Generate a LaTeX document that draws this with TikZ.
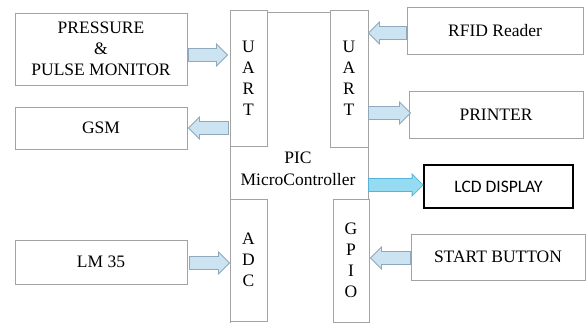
\documentclass[tikz,border=0pt]{standalone}
\usepackage{fontspec}
\setmainfont{Liberation Serif}
\newfontfamily\calibfont{Carlito}
\usetikzlibrary{calc}
\definecolor{boxgray}{HTML}{A3A3A3}
\definecolor{arrfill}{HTML}{CCE4F2}
\definecolor{arrdraw}{HTML}{8FA8BC}
\definecolor{lcdfill}{HTML}{95DCF3}
\definecolor{lcddraw}{HTML}{55B4D8}
\tikzset{
  blk/.style={draw=boxgray, line width=0.9pt, fill=white, inner sep=0pt,
    align=center, font=\fontsize{17.5}{21}\selectfont},
  barrowst/.style={draw=arrdraw, fill=arrfill, line width=0.8pt, line join=miter},
  lcdarrow/.style={draw=lcddraw, fill=lcdfill}
}
\newcommand\barrow[3][]{%
  \draw[barrowst,#1] let \p1=(#2), \p2=(#3), \n2={\x2-sign(\x2-\x1)*11} in
  (\x1,{\y1+6.5pt}) -- ({\n2*1pt},{\y1+6.5pt}) -- ({\n2*1pt},{\y1+11pt})
  -- (\x2,\y1) -- ({\n2*1pt},{\y1-11pt}) -- ({\n2*1pt},{\y1-6.5pt})
  -- (\x1,{\y1-6.5pt}) -- cycle;}
\begin{document}
\begin{tikzpicture}[x=1pt,y=-1pt]
\useasboundingbox (0,0) rectangle (587,323);
% PIC outer box
\node[blk, minimum width=138pt, minimum height=312pt] (pic) at (299,168) {};
\node[font=\fontsize{17.5}{22}\selectfont, align=center] (pictext) at (298,169) {PIC\\MicroController};
% interface blocks
\node[blk, minimum width=37pt, minimum height=136pt] (uart1) at (248.5,78) {U\\A\\R\\T};
\node[blk, minimum width=38pt, minimum height=137pt] (uart2) at (349,78.5) {U\\A\\R\\T};
\node[blk, minimum width=37pt, minimum height=122pt] (adc) at (248.5,260) {A\\D\\C};
\node[blk, minimum width=36pt, minimum height=123pt] (gpio) at (351,260.5) {G\\P\\I\\O};
% peripherals
\node[blk, minimum width=172pt, minimum height=72pt] (pm) at (101,49) {PRESSURE\\\&\\PULSE MONITOR};
\node[blk, minimum width=172pt, minimum height=42pt] (gsm) at (101,128) {GSM};
\node[blk, minimum width=172pt, minimum height=44pt] (lm) at (101,262) {LM 35};
\node[blk, minimum width=176pt, minimum height=47pt] (rfid) at (495,30.5) {RFID Reader};
\node[blk, minimum width=174pt, minimum height=47pt] (printer) at (496,114.5) {PRINTER};
\node[blk, draw=black, line width=1.8pt, minimum width=149pt, minimum height=43pt,
  font=\calibfont\fontsize{17.5}{20}\selectfont] (lcd) at (498.5,186.5) {LCD DISPLAY};
\node[blk, minimum width=174pt, minimum height=46pt] (start) at (498,257) {START BUTTON};
% arrows
\barrow{$(pm.east |- 0,55)+(1,0)$}{$(uart1.west |- 0,55)+(-2,0)$}
\barrow{$(uart1.west |- 0,128)+(-1,0)$}{$(gsm.east |- 0,128)+(1,0)$}
\barrow{$(lm.east |- 0,263)+(2,0)$}{$(adc.west |- 0,263)$}
\barrow{$(rfid.west |- 0,33)$}{$(uart2.east |- 0,33)$}
\barrow{$(uart2.east |- 0,113)$}{$(printer.west |- 0,113)+(2,0)$}
\barrow[lcdarrow]{$(pic.east |- 0,185)$}{$(lcd.west |- 0,185)$}
\barrow{$(start.west |- 0,258)$}{$(gpio.east |- 0,258)+(1,0)$}
\end{tikzpicture}
\end{document}
